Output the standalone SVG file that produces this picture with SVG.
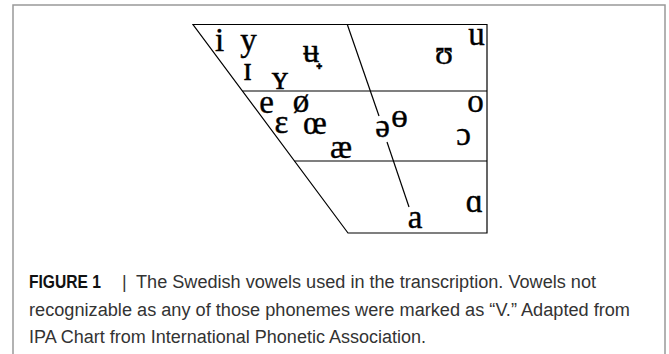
<svg xmlns="http://www.w3.org/2000/svg" width="669" height="354" viewBox="0 0 669 354">
<style>
.frame{fill:none;stroke:#999;stroke-width:1.5}
.ln{fill:none;stroke:#000;stroke-width:1.2}
.v{font-family:"Liberation Serif","DejaVu Serif",serif;font-size:33px;fill:#000;stroke:#000;stroke-width:0.4;text-anchor:middle}
.cap{font-family:"Liberation Sans","Arial",sans-serif;font-size:18px;fill:#333}
.capb{font-family:"Liberation Sans","Arial",sans-serif;font-size:18px;font-weight:bold;fill:#111}
</style>
<rect width="669" height="354" fill="#fff"/>
<path class="frame" d="M13,354 V5 H665 V354"/>
<g id="chart">
<path class="ln" d="M193,24.5 H487 V233 H348 Z"/>
<path class="ln" d="M242.5,91 H487"/>
<path class="ln" d="M294.5,161 H487"/>
<g id="connectors">
<path class="ln" d="M347.3,24.5 L379,116"/>
<path class="ln" d="M387,142 L409,207"/>
</g>
</g>
<g id="vowels">
<g id="v-i"><text class="v" x="219.5" y="51">i</text></g>
<g id="v-y"><text class="v" x="248.5" y="51">y</text></g>
<g id="v-I"><text class="v" x="247.5" y="80">ɪ</text></g>
<g id="v-Y"><text class="v" x="280" y="89">ʏ</text></g>
<g id="v-u-bar"><text class="v" x="311" y="62">ʉ̟</text></g>
<g id="v-upsilon"><text class="v" x="444" y="64">ʊ</text></g>
<g id="v-u"><text class="v" x="476.5" y="45">u</text></g>
<g id="v-e"><text class="v" x="266.5" y="113">e</text></g>
<g id="v-oslash"><text class="v" x="301" y="112">ø</text></g>
<g id="v-epsilon"><text class="v" x="281.5" y="133">ɛ</text></g>
<g id="v-oe"><text class="v" x="315" y="134">œ</text></g>
<g id="v-ae"><text class="v" x="341" y="158">æ</text></g>
<g id="v-schwa"><text class="v" x="382.5" y="137">ə</text></g>
<g id="v-barred-o"><text class="v" x="399.5" y="127">ɵ</text></g>
<g id="v-o"><text class="v" x="475.5" y="112">o</text></g>
<g id="v-open-o"><text class="v" x="463.5" y="145">ɔ</text></g>
<g id="v-a"><text class="v" x="415" y="228">a</text></g>
<g id="v-alpha"><text class="v" x="474.5" y="212">ɑ</text></g>
</g>
<g id="caption">
<text class="capb" x="29" y="288" textLength="72" lengthAdjust="spacingAndGlyphs">FIGURE 1</text>
<text class="cap" x="122" y="288">|</text>
<text class="cap" x="136" y="288" textLength="460" lengthAdjust="spacingAndGlyphs">The Swedish vowels used in the transcription. Vowels not</text>
<text class="cap" x="29" y="316" textLength="601" lengthAdjust="spacingAndGlyphs">recognizable as any of those phonemes were marked as “V.” Adapted from</text>
<text class="cap" x="29" y="343" textLength="397" lengthAdjust="spacingAndGlyphs">IPA Chart from International Phonetic Association.</text>
</g>
</svg>
